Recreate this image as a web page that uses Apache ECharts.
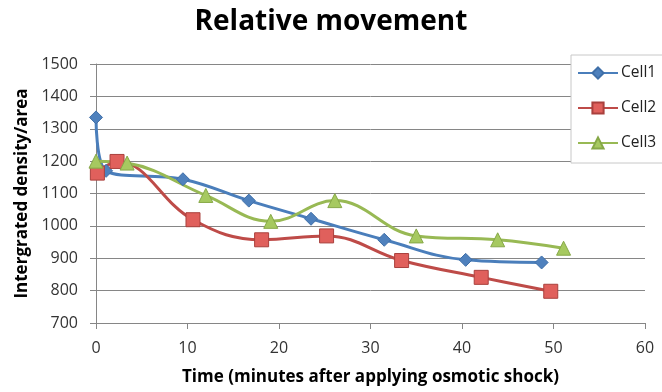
<!DOCTYPE html>
<html>
<head>
<meta charset="utf-8">
<script src="https://cdn.jsdelivr.net/npm/echarts@6/dist/echarts.min.js"></script>
<style>
  html, body { margin: 0; padding: 0; background: #fff; }
  #chart { width: 662px; height: 392px; }
</style>
</head>
<body>
<div id="chart"></div>
<script>
// time (minutes) and integrated density per cell
var cell1Time = [0, 1.1, 9.5, 16.7, 23.5, 31.5, 40.4, 48.7];
var cell1Value = [1335, 1170, 1144, 1078, 1022, 957, 895, 887];

var cell2Time = [0.15, 2.3, 10.6, 18.1, 25.2, 33.4, 42.1, 49.7];
var cell2Value = [1163, 1199, 1019, 957, 969, 893, 841, 798];

var cell3Time = [0, 3.4, 12.0, 19.1, 26.1, 35.0, 43.9, 51.1];
var cell3Value = [1200, 1194, 1094, 1014, 1078, 969, 957, 931];

var seriesNames = ['Cell1', 'Cell2', 'Cell3'];

function pairs(xs, ys) {
    var out = [];
    for (var i = 0; i < xs.length; i++) {
        out.push([xs[i], ys[i]]);
    }
    return out;
}

var font = 'Open Sans';
var myChart = echarts.init(document.getElementById('chart'));

myChart.setOption({
    animation: false,
    backgroundColor: '#fff',
    title: {
        text: 'Relative movement',
        left: 'center',
        top: 3,
        textStyle: { fontFamily: font, fontSize: 28, fontWeight: 'bold', color: '#000' }
    },
    legend: {
        orient: 'vertical',
        left: 571,
        top: 55,
        width: 100,
        padding: [10, 20, 12, 6],
        itemWidth: 40,
        itemHeight: 14,
        itemGap: 19,
        borderColor: '#c8c8c8',
        borderWidth: 1,
        backgroundColor: '#fff',
        textStyle: { fontFamily: font, fontSize: 15.5, color: '#222', padding: [0, 0, 0, -2] },
        data: seriesNames
    },
    grid: { left: 96, right: 17, top: 64, bottom: 69 },
    xAxis: {
        type: 'value',
        min: 0,
        max: 60,
        interval: 10,
        name: 'Time (minutes after applying osmotic shock)',
        nameLocation: 'middle',
        nameGap: 46,
        nameTextStyle: { fontFamily: font, fontSize: 17, fontWeight: 'bold', color: '#000' },
        axisLine: { lineStyle: { color: '#868686' } },
        axisTick: { length: 6, lineStyle: { color: '#868686' } },
        axisLabel: { fontFamily: font, fontSize: 16, color: '#333', margin: 17 },
        splitLine: { show: false }
    },
    yAxis: {
        type: 'value',
        min: 700,
        max: 1500,
        interval: 100,
        name: 'Intergrated density/area',
        nameLocation: 'middle',
        nameGap: 63,
        nameTextStyle: { fontFamily: font, fontSize: 17, fontWeight: 'bold', color: '#000' },
        axisLine: { show: true, lineStyle: { color: '#868686' } },
        axisTick: { show: true, length: 6, lineStyle: { color: '#868686' } },
        axisLabel: {
            fontFamily: font, fontSize: 16, color: '#333', margin: 18,
            formatter: function (v) { return String(v); }
        },
        splitLine: { lineStyle: { color: '#868686', width: 1 } }
    },
    series: [
        {
            name: 'Cell1',
            type: 'line',
            smooth: 0.4,
            data: pairs(cell1Time, cell1Value),
            symbol: 'diamond',
            symbolSize: 13,
            lineStyle: { color: '#4a7ebb', width: 3 },
            itemStyle: { color: '#4f81bd', borderColor: '#3f6fa8', borderWidth: 1 }
        },
        {
            name: 'Cell2',
            type: 'line',
            smooth: 0.4,
            data: pairs(cell2Time, cell2Value),
            symbol: 'rect',
            symbolSize: 14,
            lineStyle: { color: '#be4b48', width: 3 },
            itemStyle: { color: '#e0605c', borderColor: '#a9403d', borderWidth: 1 }
        },
        {
            name: 'Cell3',
            type: 'line',
            smooth: 0.4,
            data: pairs(cell3Time, cell3Value),
            symbol: 'triangle',
            symbolSize: 14,
            lineStyle: { color: '#98b954', width: 3 },
            itemStyle: { color: '#a6c960', borderColor: '#86a847', borderWidth: 1 }
        }
    ]
});
</script>
</body>
</html>
